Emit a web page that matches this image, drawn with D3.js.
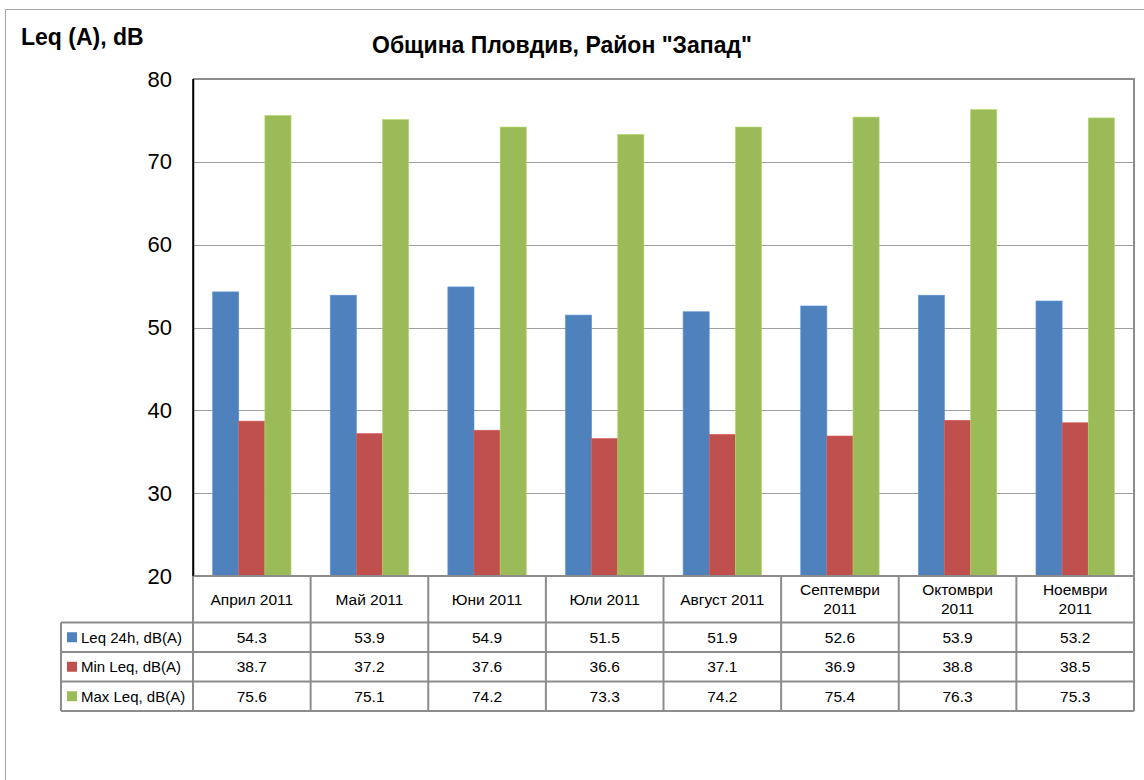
<!DOCTYPE html>
<html>
<head>
<meta charset="utf-8">
<script src="https://cdn.jsdelivr.net/npm/d3@7/dist/d3.min.js"></script>
<style>
  html, body { margin: 0; padding: 0; background: #fff; }
  svg { display: block; font-family: Arial, "Liberation Sans", sans-serif; }
</style>
</head>
<body>
<svg id="chart" width="1144" height="780"></svg>
<script>
const categories = [["Април 2011"], ["Май 2011"], ["Юни 2011"], ["Юли 2011"], ["Август 2011"], ["Септември", "2011"], ["Октомври", "2011"], ["Ноември", "2011"]];
const seriesNames = ["Leq 24h, dB(A)", "Min Leq, dB(A)", "Max Leq, dB(A)"];
const seriesColors = ["#4F81BD", "#C0504D", "#9BBB59"];
const leq24 = [54.3, 53.9, 54.9, 51.5, 51.9, 52.6, 53.9, 53.2];
const minLeq = [38.7, 37.2, 37.6, 36.6, 37.1, 36.9, 38.8, 38.5];
const maxLeq = [75.6, 75.1, 74.2, 73.3, 74.2, 75.4, 76.3, 75.3];
const yTicks = [20, 30, 40, 50, 60, 70, 80];
const title = "Община Пловдив, Район \"Запад\"";
const yTitle = "Leq (A), dB";

(function () {
const series = [leq24, minLeq, maxLeq];
const svg = d3.select("#chart");

const pLeft = 193, pRight = 1134, pTop = 79, pBottom = 576;
const rowYs = [576, 622.5, 652, 681.5, 711];
const legendLeft = 61;

// outer frame
svg.append("rect").attr("x", 5.5).attr("y", 9.5).attr("width", 1200).attr("height", 900)
  .attr("fill", "none").attr("stroke", "#a6a6a6").attr("stroke-width", 1);

const x = d3.scaleBand().domain(d3.range(categories.length)).range([pLeft, pRight]);
const y = d3.scaleLinear().domain([20, 80]).range([pBottom, pTop]);
const barW = x.bandwidth() / (3 + 1.5);
const groupOffset = (x.bandwidth() - 3 * barW) / 2;
const xs = d3.scaleBand().domain(d3.range(3)).range([0, 3 * barW]);

// gridlines
svg.append("g").selectAll("line").data(yTicks.filter(t => t > 20 && t < 80)).join("line")
  .attr("x1", pLeft).attr("x2", pRight)
  .attr("y1", d => Math.round(y(d)) + 0.5).attr("y2", d => Math.round(y(d)) + 0.5)
  .attr("stroke", "#a0a0a0").attr("stroke-width", 1);

// bars
series.forEach((vals, si) => {
  svg.append("g").selectAll("rect").data(vals).join("rect")
    .attr("x", (d, i) => x(i) + groupOffset + xs(si))
    .attr("y", d => y(d))
    .attr("width", xs.bandwidth())
    .attr("height", d => pBottom - y(d))
    .attr("fill", seriesColors[si])
    .attr("stroke", d3.color(seriesColors[si]).brighter(0.4))
    .attr("stroke-width", 0.6);
});

// plot area border top/right
svg.append("path")
  .attr("d", `M${pLeft},${pTop} H${pRight} V${pBottom}`)
  .attr("fill", "none").attr("stroke", "#8c8c8c").attr("stroke-width", 2);

// y axis
const yAxis = d3.axisLeft(y).tickValues(yTicks).tickSize(0).tickPadding(21).tickFormat(d3.format("d"));
const ya = svg.append("g").attr("transform", `translate(${pLeft},0)`).call(yAxis);
ya.select(".domain").attr("stroke", "#000").attr("stroke-width", 1.5);
ya.selectAll("text").attr("font-size", 22).attr("fill", "#000")
  .attr("font-family", "Arial, 'Liberation Sans', sans-serif");

// table
const tg = svg.append("g");
const gridStroke = "#8c8c8c";
rowYs.forEach((ry, i) => {
  tg.append("line").attr("x1", i === 0 ? pLeft : legendLeft).attr("x2", pRight)
    .attr("y1", ry).attr("y2", ry).attr("stroke", gridStroke).attr("stroke-width", 2);
});
const vx = d3.range(categories.length + 1).map(i => i === categories.length ? pRight : x(i));
vx.forEach(vxx => {
  tg.append("line").attr("x1", vxx).attr("x2", vxx).attr("y1", rowYs[0]).attr("y2", rowYs[4])
    .attr("stroke", gridStroke).attr("stroke-width", 2);
});
tg.append("line").attr("x1", legendLeft).attr("x2", legendLeft).attr("y1", rowYs[1]).attr("y2", rowYs[4])
  .attr("stroke", gridStroke).attr("stroke-width", 2);
svg.append("line").attr("x1", pLeft).attr("x2", pLeft).attr("y1", pTop).attr("y2", pBottom)
  .attr("stroke", "#000").attr("stroke-width", 1.5);

// category labels
categories.forEach((lines, i) => {
  const cx = x(i) + x.bandwidth() / 2;
  const cy = (rowYs[0] + rowYs[1]) / 2;
  const t = tg.append("text").attr("x", cx).attr("text-anchor", "middle")
    .attr("font-size", 15.5).attr("fill", "#000");
  const lh = 19;
  lines.forEach((ln, li) => {
    t.append("tspan").attr("x", cx)
      .attr("y", cy + (li - (lines.length - 1) / 2) * lh)
      .attr("dy", "0.35em").text(ln);
  });
});

// legend column + values
series.forEach((vals, si) => {
  const cy = (rowYs[si + 1] + rowYs[si + 2]) / 2;
  tg.append("rect").attr("x", 67).attr("y", cy - 5).attr("width", 10).attr("height", 10)
    .attr("fill", seriesColors[si]);
  tg.append("text").attr("x", 81).attr("y", cy).attr("dy", "0.35em")
    .attr("font-size", 15).attr("fill", "#000").text(seriesNames[si]);
  tg.selectAll(null).data(vals).join("text")
    .attr("x", (d, i) => x(i) + x.bandwidth() / 2)
    .attr("y", cy).attr("dy", "0.35em").attr("text-anchor", "middle")
    .attr("font-size", 15.5).attr("fill", "#000")
    .text(d => d3.format(".1f")(d));
});

// titles
svg.append("text").attr("x", 562).attr("y", 53).attr("text-anchor", "middle")
  .attr("font-size", 23).attr("font-weight", "bold").attr("fill", "#000").text(title);
svg.append("text").attr("x", 21).attr("y", 45)
  .attr("font-size", 23).attr("font-weight", "bold").attr("fill", "#000").text(yTitle);
})();
</script>
</body>
</html>
